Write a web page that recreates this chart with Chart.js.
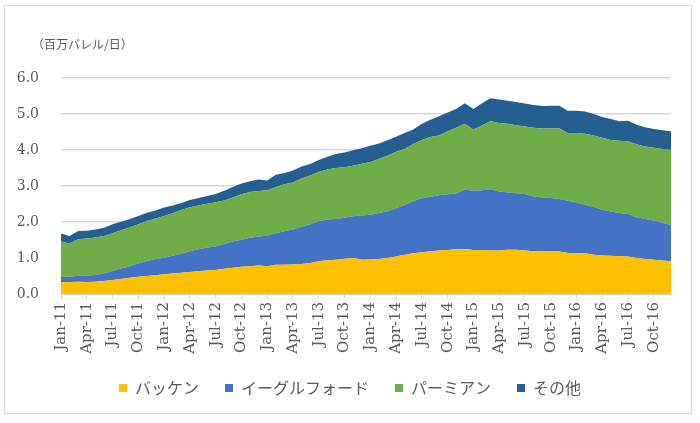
<!DOCTYPE html>
<html>
<head>
<meta charset="utf-8">
<script src="https://cdn.jsdelivr.net/npm/chart.js@4.4.1/dist/chart.umd.min.js"></script>
<style>
  body { margin: 0; background: #fff; }
  #wrap { position: relative; width: 700px; height: 423px; }
  #frame { position: absolute; left: 4px; top: 5px; width: 686px; height: 407px; border: 1px solid #d9d9d9; pointer-events: none; }
  #unit { position: absolute; left: 32px; top: 35px; font: 12px "Noto Sans CJK JP", sans-serif; color: #595959; }
</style>
</head>
<body>
<div id="wrap">
  <canvas id="chart" width="700" height="423"></canvas>
  <div id="frame"></div>
  <div id="unit">（百万バレル/日）</div>
</div>
<script>
// monthly output, Jan-11 .. Dec-16
var months = [
  'Jan-11','Feb-11','Mar-11','Apr-11','May-11','Jun-11','Jul-11','Aug-11','Sep-11','Oct-11','Nov-11','Dec-11',
  'Jan-12','Feb-12','Mar-12','Apr-12','May-12','Jun-12','Jul-12','Aug-12','Sep-12','Oct-12','Nov-12','Dec-12',
  'Jan-13','Feb-13','Mar-13','Apr-13','May-13','Jun-13','Jul-13','Aug-13','Sep-13','Oct-13','Nov-13','Dec-13',
  'Jan-14','Feb-14','Mar-14','Apr-14','May-14','Jun-14','Jul-14','Aug-14','Sep-14','Oct-14','Nov-14','Dec-14',
  'Jan-15','Feb-15','Mar-15','Apr-15','May-15','Jun-15','Jul-15','Aug-15','Sep-15','Oct-15','Nov-15','Dec-15',
  'Jan-16','Feb-16','Mar-16','Apr-16','May-16','Jun-16','Jul-16','Aug-16','Sep-16','Oct-16','Nov-16','Dec-16'
];

var bakken = [
  0.32,0.33,0.34,0.33,0.34,0.36,0.39,0.42,0.45,0.48,0.50,0.52,
  0.55,0.57,0.59,0.61,0.63,0.65,0.67,0.70,0.73,0.76,0.77,0.79,
  0.77,0.81,0.81,0.82,0.83,0.86,0.91,0.94,0.95,0.98,1.00,0.95,
  0.96,0.97,1.00,1.04,1.09,1.13,1.16,1.19,1.21,1.22,1.24,1.25,
  1.22,1.22,1.21,1.21,1.23,1.23,1.21,1.19,1.18,1.18,1.18,1.14,
  1.13,1.13,1.09,1.07,1.06,1.05,1.04,1.00,0.97,0.95,0.93,0.91
];
var eagleFord = [
  0.15,0.15,0.17,0.18,0.19,0.21,0.25,0.29,0.32,0.37,0.42,0.45,
  0.46,0.49,0.53,0.58,0.61,0.64,0.65,0.69,0.73,0.75,0.79,0.81,
  0.85,0.88,0.93,0.97,1.04,1.08,1.11,1.13,1.13,1.14,1.16,1.23,
  1.24,1.28,1.30,1.34,1.38,1.45,1.50,1.51,1.53,1.55,1.55,1.65,
  1.65,1.66,1.70,1.64,1.59,1.57,1.57,1.52,1.50,1.49,1.46,1.45,
  1.41,1.35,1.33,1.27,1.23,1.20,1.18,1.13,1.11,1.09,1.04,1.01
];
var permian = [
  0.99,0.92,1.01,1.03,1.04,1.04,1.05,1.06,1.08,1.09,1.11,1.13,
  1.16,1.18,1.21,1.22,1.22,1.22,1.23,1.21,1.22,1.26,1.27,1.26,
  1.26,1.28,1.31,1.31,1.34,1.35,1.37,1.39,1.42,1.40,1.40,1.44,
  1.47,1.50,1.54,1.57,1.56,1.59,1.62,1.66,1.66,1.75,1.83,1.83,
  1.70,1.80,1.89,1.90,1.91,1.89,1.87,1.91,1.92,1.93,1.96,1.88,
  1.93,1.97,1.98,2.00,1.99,2.01,2.02,2.03,2.02,2.02,2.06,2.08
];
var other = [
  0.22,0.21,0.23,0.22,0.22,0.23,0.25,0.24,0.23,0.23,0.23,0.22,
  0.23,0.22,0.20,0.20,0.21,0.21,0.23,0.27,0.29,0.30,0.30,0.32,
  0.27,0.34,0.31,0.33,0.33,0.32,0.33,0.35,0.39,0.41,0.43,0.43,
  0.45,0.43,0.43,0.42,0.44,0.40,0.45,0.48,0.54,0.52,0.52,0.57,
  0.57,0.62,0.64,0.65,0.64,0.64,0.64,0.63,0.62,0.63,0.63,0.62,
  0.62,0.62,0.60,0.58,0.58,0.54,0.57,0.54,0.53,0.52,0.52,0.52
];

var seriesNames = ['バッケン', 'イーグルフォード', 'パーミアン', 'その他'];
var seriesColors = ['#FFC000', '#4472C4', '#70AD47', '#255E91'];
var yTicks = [0, 1, 2, 3, 4, 5, 6];

var series = [bakken, eagleFord, permian, other];
var datasets = series.map(function(values, i) {
    return {
        label: seriesNames[i],
        data: values,
        backgroundColor: seriesColors[i],
        borderColor: seriesColors[i],
        borderWidth: 0,
        pointRadius: 0,
        tension: 0,
        fill: i === 0 ? 'origin' : '-1'
    };
});

var serif = 'DejaVu Serif';
var grey = '#d9d9d9';

// padding is uneven left/right, so nudge the legend back to the canvas centre
var centreLegend = {
    id: 'centreLegend',
    afterLayout: function(chart) {
        var shift = (chart.width - chart.legend.right - chart.legend.left) / 2;
        chart.legend.left += shift;
        chart.legend.right += shift;
    }
};

new Chart(document.getElementById('chart'), {
    type: 'line',
    data: { labels: months, datasets: datasets },
    plugins: [centreLegend],
    options: {
        responsive: false,
        animation: false,
        layout: { padding: { left: 10, right: 29, top: 78, bottom: 17 } },
        plugins: {
            legend: {
                position: 'bottom',
                labels: {
                    boxWidth: 8,
                    boxHeight: 8,
                    padding: 26,
                    color: '#595959',
                    font: { family: '"Noto Sans CJK JP"', size: 16 }
                }
            },
            tooltip: { enabled: false }
        },
        scales: {
            x: {
                offset: false,
                grid: {
                    drawOnChartArea: false,
                    drawTicks: true,
                    tickLength: 5,
                    color: function(ctx) { return ctx.index % 3 === 0 ? grey : 'rgba(0,0,0,0)'; }
                },
                border: { display: true, color: grey },
                ticks: {
                    autoSkip: false,
                    minRotation: 90,
                    maxRotation: 90,
                    padding: 3,
                    color: '#595959',
                    font: { family: serif, size: 15 },
                    callback: function(value, index) {
                        return index % 3 === 0 ? months[index] : '';
                    }
                },
                afterFit: function(scale) { scale.height = 60; }
            },
            y: {
                stacked: true,
                min: yTicks[0],
                max: yTicks[yTicks.length - 1],
                grid: { color: grey, drawTicks: false, lineWidth: 1.5 },
                border: { display: false },
                ticks: {
                    stepSize: 1,
                    padding: 22,
                    color: '#595959',
                    font: { family: serif, size: 14 },
                    callback: function(v) { return v.toFixed(1); }
                },
                afterFit: function(scale) { scale.width = 51; }
            }
        }
    }
});
</script>
</body>
</html>
